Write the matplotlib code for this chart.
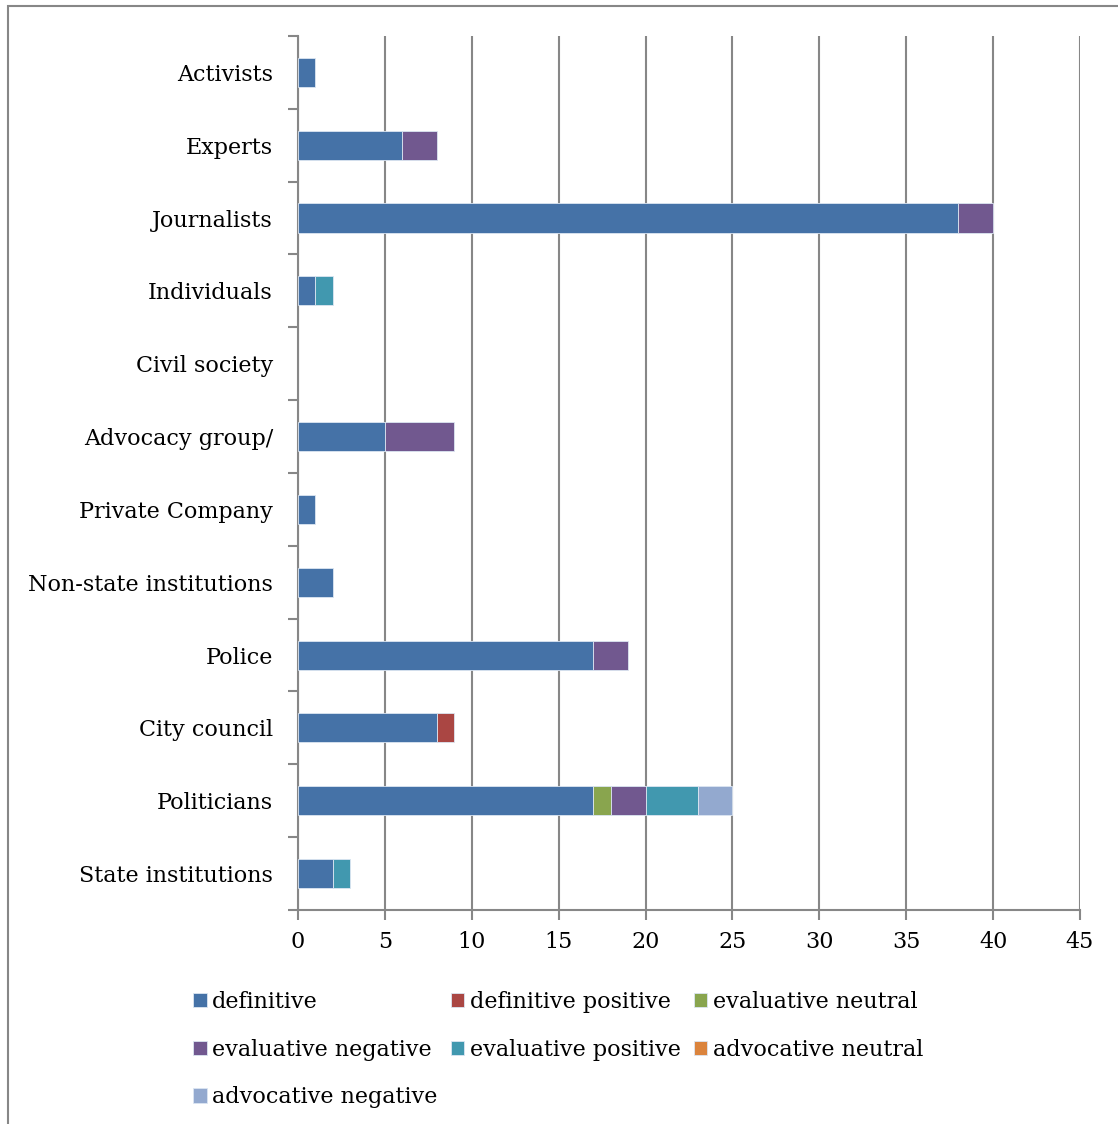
"""Stacked bar chart of source types by framing category."""
import numpy
import matplotlib as mpl

mpl.use('Agg')
from matplotlib import pyplot as plt
from matplotlib.patches import Rectangle


actors = [
    'Activists',
    'Experts',
    'Journalists',
    'Individuals',
    'Civil society',
    'Advocacy group/',
    'Private Company',
    'Non-state institutions',
    'Police',
    'City council',
    'Politicians',
    'State institutions',
]

definitive = [1, 6, 38, 1, 0, 5, 1, 2, 17, 8, 17, 2]
definitive_positive = [0, 0, 0, 0, 0, 0, 0, 0, 0, 1, 0, 0]
evaluative_neutral = [0, 0, 0, 0, 0, 0, 0, 0, 0, 0, 1, 0]
evaluative_negative = [0, 2, 2, 0, 0, 4, 0, 0, 2, 0, 2, 0]
evaluative_positive = [0, 0, 0, 1, 0, 0, 0, 0, 0, 0, 3, 1]
advocative_neutral = [0, 0, 0, 0, 0, 0, 0, 0, 0, 0, 0, 0]
advocative_negative = [0, 0, 0, 0, 0, 0, 0, 0, 0, 0, 2, 0]

series_names = [
    'definitive',
    'definitive positive',
    'evaluative neutral',
    'evaluative negative',
    'evaluative positive',
    'advocative neutral',
    'advocative negative',
]
series_values = [
    definitive,
    definitive_positive,
    evaluative_neutral,
    evaluative_negative,
    evaluative_positive,
    advocative_neutral,
    advocative_negative,
]
colors = ['#4572A7', '#AA4643', '#89A54E', '#71588F', '#4198AF', '#DB843D', '#93A9CF']

x_ticks = list(range(0, 50, 5))


def plot_sources(out_file: str) -> None:
    plt.rcParams['font.family'] = ['DejaVu Serif']
    grey = '#878787'
    fs = 16
    fig = plt.figure(figsize=(11.18, 11.24), dpi=100)
    ax = fig.add_axes([0.2665, 0.1904, 0.6995, 0.7776])

    y = numpy.arange(len(actors))[::-1]
    left = numpy.zeros(len(actors))
    handles = []
    for name, vals, c in zip(series_names, series_values, colors):
        vals = numpy.array(vals, dtype=float)
        nz = vals > 0
        bars = ax.barh(y[nz], vals[nz], left=left[nz], height=0.4, color=c,
                       edgecolor='#dce6f2', linewidth=0.6, label=name, zorder=3)
        if not nz.any():
            bars = Rectangle((0, 0), 1, 1, facecolor=c, edgecolor='#dce6f2', linewidth=0.6)
        handles.append(bars)
        left += vals

    ax.set_xlim(0, 45)
    ax.set_ylim(-0.5, len(actors) - 0.5)
    ax.set_xticks(x_ticks)
    ax.set_yticks(y)
    ax.set_yticklabels(actors)
    ax.set_yticks(numpy.arange(-0.5, len(actors)), minor=True)
    ax.tick_params(axis='y', which='major', length=0, pad=18, labelsize=fs)
    ax.tick_params(axis='y', which='minor', length=7, width=1.5, color=grey)
    ax.tick_params(axis='x', length=7, width=1.5, color=grey, labelsize=fs, pad=8)
    ax.xaxis.grid(True, color=grey, linewidth=1.5, zorder=0)
    ax.set_axisbelow(True)
    for side in ('top', 'right'):
        ax.spines[side].set_visible(False)
    for side in ('left', 'bottom'):
        ax.spines[side].set_color(grey)
        ax.spines[side].set_linewidth(1.5)

    # Row-wise legend order across three columns
    order = [0, 3, 6, 1, 4, 2, 5]
    fig.legend([handles[i] for i in order], [series_names[i] for i in order],
               ncol=3, loc='upper left', bbox_to_anchor=(0.165, 0.126),
               frameon=False, fontsize=fs, handlelength=0.6, handleheight=0.6,
               handletextpad=0.25, columnspacing=0.6, labelspacing=1.15,
               borderaxespad=0)

    fig.patches.append(Rectangle((8 / 1118, -0.05), 1.1, 1 - 6 / 1124 + 0.05,
                                 transform=fig.transFigure, fill=False,
                                 edgecolor=grey, linewidth=1.5))
    fig.savefig(out_file, dpi=100)


if __name__ == '__main__':
    plot_sources('out.png')
